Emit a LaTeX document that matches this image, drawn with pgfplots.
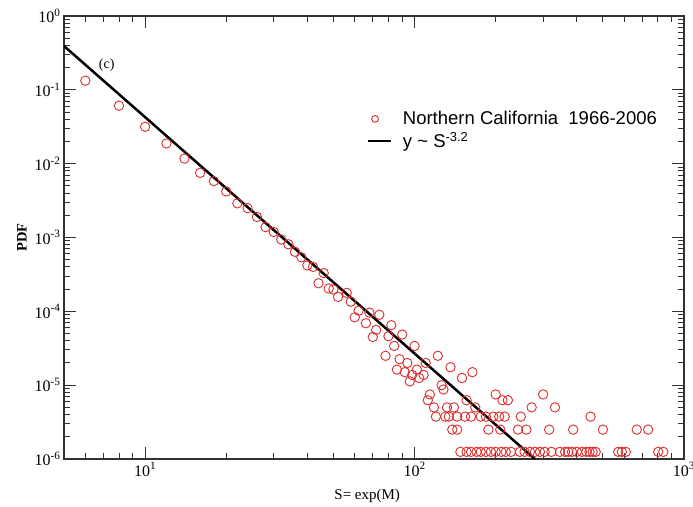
\documentclass[border=0pt]{standalone}
\usepackage{fontspec}
\setmainfont{Liberation Serif}
\newfontfamily\legfont{Liberation Sans}
\usepackage{pgfplots}
\pgfplotsset{compat=1.18}
\definecolor{ptred}{RGB}{222,45,45}
\definecolor{frame}{RGB}{50,50,50}

% PDF of S = exp(M), bins of width 2; tail values are multiples of 1.25e-6
\pgfplotstableread{
S       pdf
6       0.133
8       0.061
10      0.0316
12      0.0188
14      0.0117
16      0.0075
18      0.0058
20      0.0042
22      0.0029
24      0.0025
26      0.0019
28      0.00138
30      0.00119
32      0.00094
34      0.00081
36      0.00064
38      0.00054
40      0.00042
42      0.00040
44      0.00024
46      0.00033
48      0.000204
50      0.000198
52      0.000157
56      0.000178
58      0.000135
60      0.000083
62      0.000102
66      0.000069
68      0.000096
70      0.000045
72      0.000056
74      0.000090
78      2.5e-5
80      4.6e-5
82      6.5e-5
84      3.4e-5
86      1.625e-5
88      2.25e-5
90      4.85e-5
92      1.5e-5
94      2.0e-5
96      1.125e-5
98      1.375e-5
100     3.4e-5
102     1.625e-5
104     1.25e-5
108     1.375e-5
110     2.0e-5
112     6.25e-6
114     7.5e-6
118     5e-6
120     3.75e-6
122     2.5e-5
126     1e-5
128     8.75e-6
130     3.75e-6
132     5e-6
134     3.75e-6
136     1.75e-5
138     2.5e-6
140     5e-6
144     2.5e-6
144     3.75e-6
148     1.25e-6
150     1.25e-5
154     3.75e-6
156     6.25e-6
156     1.25e-6
162     3.75e-6
162     1.25e-6
164     1.5e-5
168     5e-6
170     1.25e-6
176     3.75e-6
176     1.25e-6
184     3.75e-6
184     1.25e-6
188     2.5e-6
192     1.25e-6
196     3.75e-6
200     7.5e-6
200     1.25e-6
206     3.75e-6
208     2.5e-6
210     1.25e-6
212     6.25e-6
216     3.75e-6
218     1.25e-6
222     6.25e-6
228     1.25e-6
242     2.5e-6
246     1.25e-6
248     3.75e-6
256     1.25e-6
260     2.5e-6
268     1.25e-6
272     5e-6
280     1.25e-6
292     1.25e-6
300     7.5e-6
304     1.25e-6
316     2.5e-6
322     1.25e-6
332     5e-6
346     1.25e-6
362     1.25e-6
372     1.25e-6
384     1.25e-6
388     2.5e-6
400     1.25e-6
418     1.25e-6
434     1.25e-6
446     1.25e-6
450     3.75e-6
458     1.25e-6
470     1.25e-6
500     2.5e-6
570     1.25e-6
588     1.25e-6
608     1.25e-6
668     2.5e-6
736     2.5e-6
802     1.25e-6
838     1.25e-6
}\ncsn

\begin{document}
\begin{tikzpicture}
\useasboundingbox (0,0) rectangle (693pt,506pt);
\begin{axis}[
    at={(64pt,47pt)}, anchor=south west,
    scale only axis, width=620pt, height=443pt,
    xmode=log, ymode=log,
    xmin=5, xmax=1000, ymin=1e-6, ymax=1,
    xtick={10,100,1000},
    xticklabels={10\textsuperscript{1},10\textsuperscript{2},10\textsuperscript{3}},
    ytick={1e-6,1e-5,1e-4,1e-3,1e-2,1e-1,1},
    yticklabels={10\textsuperscript{-6},10\textsuperscript{-5},10\textsuperscript{-4},10\textsuperscript{-3},10\textsuperscript{-2},10\textsuperscript{-1},10\textsuperscript{0}},
    minor xtick={6,7,8,9,20,30,40,50,60,70,80,90,200,300,400,500,600,700,800,900},
    minor ytick={2e-6,3e-6,4e-6,5e-6,6e-6,7e-6,8e-6,9e-6,
                 2e-5,3e-5,4e-5,5e-5,6e-5,7e-5,8e-5,9e-5,
                 2e-4,3e-4,4e-4,5e-4,6e-4,7e-4,8e-4,9e-4,
                 2e-3,3e-3,4e-3,5e-3,6e-3,7e-3,8e-3,9e-3,
                 0.02,0.03,0.04,0.05,0.06,0.07,0.08,0.09,
                 0.2,0.3,0.4,0.5,0.6,0.7,0.8,0.9},
    tick align=inside,
    major tick length=12pt, minor tick length=6pt,
    every tick/.append style={frame, line width=1pt},
    axis line style={frame, line width=1.3pt},
    tick label style={font=\fontsize{16}{18}\selectfont},
    xlabel={S= exp(M)},
    xlabel style={font=\fontsize{15}{17}\selectfont, at={(axis description cs:0.489,0)}, anchor=north, yshift=-27pt},
    ylabel={\textbf{PDF}},
    ylabel style={font=\fontsize{14.5}{16}\selectfont, at={(axis description cs:-0.068,0.5)}, anchor=center},
    legend style={draw=none, fill=none, at={(axis description cs:0.483,0.794)}, anchor=north west,
                  font=\legfont\fontsize{18.5}{22}\selectfont, row sep=2pt,
                  /tikz/every odd column/.append style={column sep=9pt}},
    legend cell align=left,
]
\addplot[only marks, mark=o, mark size=4.7pt, ptred, line width=0.9pt,
    legend image code/.code={\draw[ptred, line width=0.9pt] (0.25cm,0cm) circle (3.4pt);}]
    table[x=S, y=pdf] {\ncsn};
\addlegendentry{Northern California\ \ 1966-2006}
\addplot[black, line width=2.5pt, no markers,
    legend image code/.code={\draw[black, line width=2.5pt] (0cm,0cm) -- (0.8cm,0cm);}]
    coordinates {(5,0.392) (279.5,1e-6)};
\addlegendentry{y \textasciitilde\ S\textsuperscript{-3.2}}
\node[font=\fontsize{14}{16}\selectfont] at (axis cs:7.2,0.215) {(c)};
\end{axis}
\end{tikzpicture}
\end{document}
